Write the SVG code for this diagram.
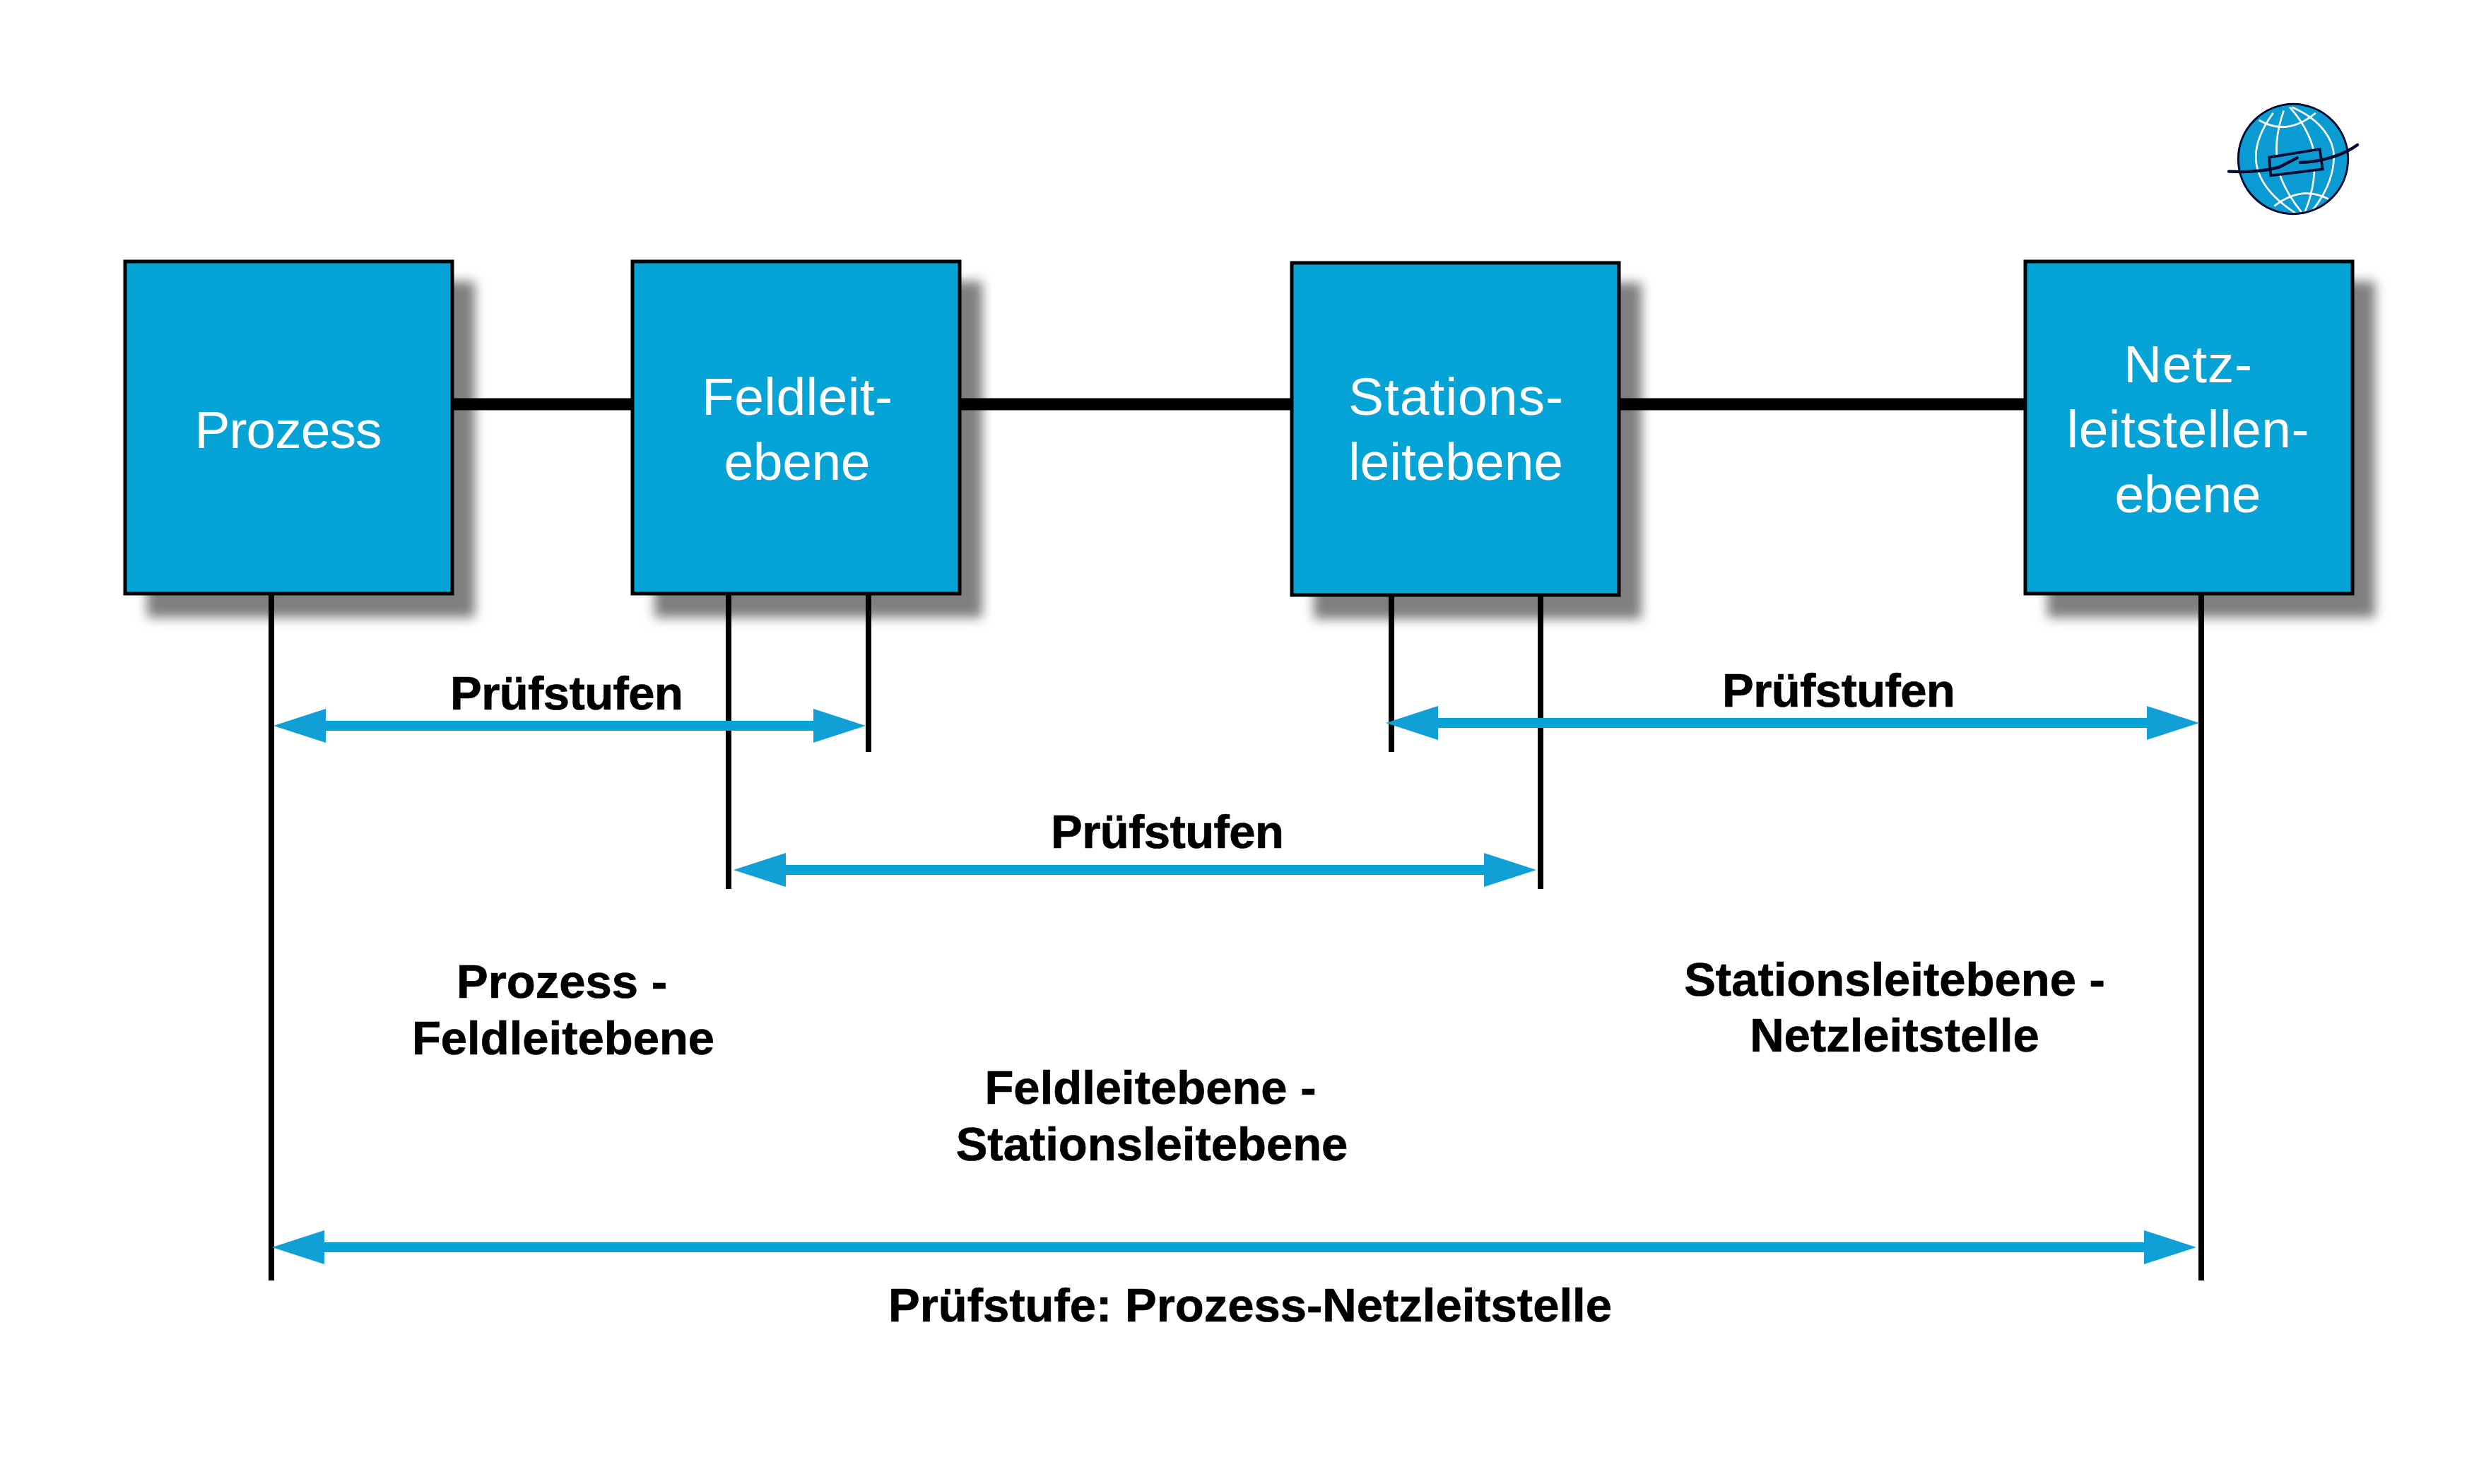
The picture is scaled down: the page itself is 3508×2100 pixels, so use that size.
<svg xmlns="http://www.w3.org/2000/svg" width="3508" height="2100" viewBox="0 0 3508 2100">
<defs>
<style>
.box{fill:#05A3D6;stroke:#000;stroke-width:5}
.sh{fill:#7f7f7f;filter:url(#blur)}
.nt{font-family:"Liberation Sans",Arial,sans-serif;font-size:75px;fill:#fff;text-anchor:middle}
.lb{font-family:"Liberation Sans",Arial,sans-serif;font-weight:700;font-size:67px;fill:#000;stroke:#000;stroke-width:.7;text-anchor:middle}
.bus{stroke:#000;stroke-width:17;fill:none}
.v{stroke:#000;stroke-width:8;fill:none}
.ar{stroke:#05A3D6;stroke-width:14;fill:none;marker-start:url(#ah);marker-end:url(#ah)}
.gw{stroke:#fff;stroke-width:8;fill:none}
.gk{stroke:#000a30;fill:none;stroke-linecap:round}
</style>
<filter id="blur" x="-10%" y="-10%" width="120%" height="120%"><feGaussianBlur stdDeviation="8"/></filter>
<marker id="ah" markerUnits="userSpaceOnUse" markerWidth="76" markerHeight="50" refX="0" refY="25" orient="auto-start-reverse"><path d="M0 1L74 25L0 49Z" fill="#10A0D6"/></marker>
<clipPath id="gc"><circle cx="3245" cy="225" r="77"/></clipPath>
</defs>
<rect width="3508" height="2100" fill="#fff"/>
<g id="shadows">
<rect class="sh" x="208" y="398" width="464" height="476"/>
<rect class="sh" x="926" y="398" width="464" height="476"/>
<rect class="sh" x="1859" y="400" width="464" height="476"/>
<rect class="sh" x="2897" y="398" width="464" height="476"/>
</g>
<g id="connectors">
<line class="bus" x1="640" y1="572" x2="895" y2="572"/>
<line class="bus" x1="1358" y1="572" x2="1828" y2="572"/>
<line class="bus" x1="2291" y1="572" x2="2866" y2="572"/>
<line class="v" x1="384" y1="841" x2="384" y2="1812"/>
<line class="v" x1="1031" y1="841" x2="1031" y2="1258"/>
<line class="v" x1="1229" y1="841" x2="1229" y2="1064"/>
<line class="v" x1="1969" y1="841" x2="1969" y2="1064"/>
<line class="v" x1="2180" y1="841" x2="2180" y2="1258"/>
<line class="v" x1="3115" y1="841" x2="3115" y2="1812"/>
<line class="ar" x1="461" y1="1027" x2="1151" y2="1027"/>
<line class="ar" x1="2035" y1="1023" x2="3038" y2="1023"/>
<line class="ar" x1="1112" y1="1231" x2="2100" y2="1231"/>
<line class="ar" x1="459" y1="1765" x2="3034" y2="1765"/>
</g>
<g id="node-prozess"><rect class="box" x="177" y="370" width="463" height="470"/><text class="nt" x="408" y="634" textLength="265">Prozess</text></g>
<g id="node-feldleit"><rect class="box" x="895" y="370" width="463" height="470"/><text class="nt" x="1128" y="587" textLength="270">Feldleit-</text><text class="nt" x="1128" y="679" textLength="207">ebene</text></g>
<g id="node-stations"><rect class="box" x="1828" y="372" width="463" height="470"/><text class="nt" x="2060" y="587" textLength="304">Stations-</text><text class="nt" x="2060" y="679" textLength="304">leitebene</text></g>
<g id="node-netz"><rect class="box" x="2866" y="370" width="463" height="470"/><text class="nt" x="3096" y="541" textLength="182">Netz-</text><text class="nt" x="3096" y="633" textLength="343">leitstellen-</text><text class="nt" x="3096" y="725" textLength="207">ebene</text></g>
<g id="labels">
<text class="lb" x="802" y="1004" textLength="330">Prüfstufen</text>
<text class="lb" x="2602" y="1000" textLength="330">Prüfstufen</text>
<text class="lb" x="1652" y="1200" textLength="330">Prüfstufen</text>
<text class="lb" x="795" y="1412">Prozess -</text>
<text class="lb" x="797" y="1492">Feldleitebene</text>
<text class="lb" x="1628" y="1562">Feldleitebene -</text>
<text class="lb" x="1630" y="1642">Stationsleitebene</text>
<text class="lb" x="2681" y="1409">Stationsleitebene -</text>
<text class="lb" x="2681" y="1488">Netzleitstelle</text>
<text class="lb" x="1769" y="1870">Prüfstufe: Prozess-Netzleitstelle</text>
</g>
<g id="logo">
<circle cx="3245" cy="225" r="77" fill="#0A9BD3"/>
<g clip-path="url(#gc)">
<g transform="translate(3080 110) scale(.33333)">
<path class="gw" d="M410 150C300 300 300 440 505 575"/>
<path class="gw" d="M455 140C420 240 420 310 430 380C445 450 490 520 530 570"/>
<path class="gw" d="M480 125C550 200 585 290 585 340C590 430 570 510 545 570"/>
<path class="gw" d="M490 125C620 180 670 270 668 340C665 430 620 510 575 565"/>
<path class="gw" d="M350 180Q470 250 590 150"/>
<path class="gw" d="M415 545Q530 455 645 515"/>
</g>
</g>
<g transform="translate(3080 110) scale(.33333)">
<path d="M393 338L608 303L620 388L400 415Z" fill="#0A9BD3" stroke="#000a30" stroke-width="11"/>
<path class="gk" stroke-width="13" d="M222 398C300 402 380 395 435 380L512 340"/>
<path class="gk" stroke-width="13" d="M525 360C600 358 700 335 768 285"/>
<circle cx="495" cy="345" r="233" fill="none" stroke="#000a30" stroke-width="9"/>
</g>
</g>
</svg>
